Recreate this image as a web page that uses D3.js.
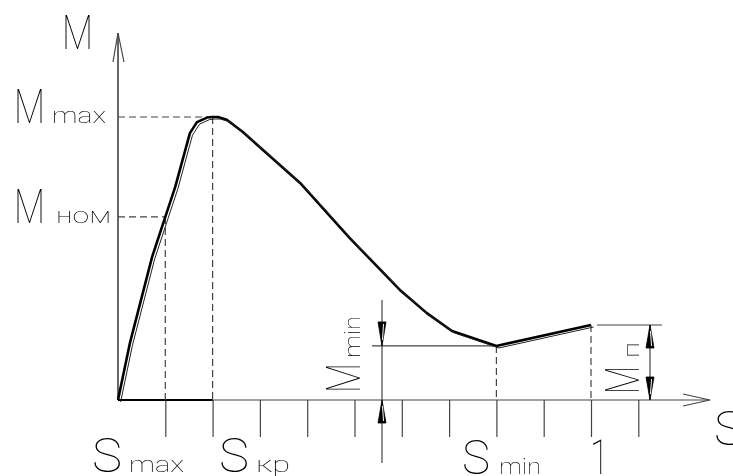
<!DOCTYPE html>
<html>
<head>
<meta charset="utf-8">
<script src="https://cdn.jsdelivr.net/npm/d3@7"></script>
<style>
  body { margin: 0; background: #fff; }
  svg { display: block; filter: grayscale(100%); }
  text { font-family: "DejaVu Sans ExtraLight", "Roboto", "Inter", sans-serif; font-weight: 100; fill: #000; }
</style>
</head>
<body>
<script>
const width = 733;
const height = 476;

// slip / torque (M in units of Mmax)
const slip   = [0, 0.025, 0.072, 0.1, 0.121, 0.152, 0.167, 0.188, 0.2, 0.211, 0.23, 0.264, 0.385, 0.49, 0.596, 0.653, 0.706, 0.8, 1.0];
const torque = [0, 0.2, 0.505, 0.647, 0.753, 0.943, 0.982, 0.998, 1.0, 1.0, 0.99, 0.947, 0.767, 0.572, 0.389, 0.307, 0.244, 0.191, 0.265];
const tickSlips = [0.1, 0.2, 0.3, 0.4, 0.5, 0.6, 0.7, 0.8, 0.9, 1.0, 1.1];

const sMax = 0.1, sKr = 0.2, sMin = 0.8, sOne = 1.0;
const mMax = 1.0, mNom = 0.647, mMin = 0.191, mStart = 0.265;

const x = d3.scaleLinear().domain([0, 1]).range([118, 591]);
const y = d3.scaleLinear().domain([0, 1]).range([400, 117]);

const svg = d3.select("body")
  .append("svg")
  .attr("width", width)
  .attr("height", height);

const thin = "#444";

// x axis with long ticks below
const xAxis = d3.axisBottom(x).tickValues(tickSlips).tickSize(37).tickFormat("");
const gx = svg.append("g")
  .attr("transform", `translate(0,${y(0)})`)
  .call(xAxis);
gx.select(".domain").remove();
gx.selectAll("line").attr("stroke", thin).attr("stroke-width", 1.2);

svg.append("line")
  .attr("x1", x(0)).attr("x2", 710)
  .attr("y1", y(0)).attr("y2", y(0))
  .attr("stroke", thin).attr("stroke-width", 1.2);
svg.append("line")
  .attr("x1", x(0)).attr("x2", x(sKr))
  .attr("y1", y(0)).attr("y2", y(0))
  .attr("stroke", "#000").attr("stroke-width", 2);
svg.append("path")
  .attr("d", `M683,394L710,400L683,406`)
  .attr("fill", "none").attr("stroke", thin).attr("stroke-width", 1.2);

// y axis
svg.append("line")
  .attr("x1", x(0)).attr("x2", x(0))
  .attr("y1", y(0)).attr("y2", 33)
  .attr("stroke", "#000").attr("stroke-width", 1.2);
svg.append("path")
  .attr("d", `M113,62L118,33L124,62`)
  .attr("fill", "none").attr("stroke", thin).attr("stroke-width", 1.2);

// dashed guides
const dash = (x1, y1, x2, y2) => svg.append("line")
  .attr("x1", x1).attr("y1", y1).attr("x2", x2).attr("y2", y2)
  .attr("stroke", thin).attr("stroke-width", 1.2)
  .attr("stroke-dasharray", "7,4");

dash(x(0), y(mMax), x(sKr), y(mMax));
dash(x(sKr), y(mMax), x(sKr), y(0));
dash(x(0), y(mNom), x(sMax), y(mNom));
dash(x(sMax), y(mNom), x(sMax), y(0));
dash(x(sMin), y(mMin), x(sMin), y(0));
dash(x(sOne), y(mStart), x(sOne), y(0));

// solid dimension lines
const solid = (x1, y1, x2, y2) => svg.append("line")
  .attr("x1", x1).attr("y1", y1).attr("x2", x2).attr("y2", y2)
  .attr("stroke", thin).attr("stroke-width", 1.2);

solid(372, y(mMin), x(sMin), y(mMin));
solid(382, 300, 382, 463);
solid(597, y(mStart), 662, y(mStart));
solid(650, y(mStart), 650, y(0));

// narrow dimension arrows: tip at (tx,ty), dir +1 points down, -1 points up
const arrow = (tx, ty, dir, len) => {
  svg.append("path")
    .attr("d", `M${tx},${ty}L${tx - 4},${ty - dir * len}L${tx + 4},${ty - dir * len}Z`)
    .attr("fill", "#000").attr("stroke", "#000").attr("stroke-width", 0.8);
  svg.append("line")
    .attr("x1", tx + 1.5).attr("y1", ty - dir * (len - 2))
    .attr("x2", tx + 0.5).attr("y2", ty - dir * 6)
    .attr("stroke", "#fff").attr("stroke-width", 1);
};
arrow(382, y(mMin), 1, 24);
arrow(382, y(0), -1, 23);
arrow(650, y(mStart), -1, 23);
arrow(650, y(0), 1, 23);

// torque curve (drawn as a double polyline like the CAD original)
const pts = slip.map((s, i) => [s, torque[i]]);
const line = d3.line().x(d => x(d[0])).y(d => y(d[1]));

svg.append("path")
  .attr("d", line(pts))
  .attr("fill", "none").attr("stroke", "#000")
  .attr("stroke-width", 2.6).attr("stroke-linejoin", "round");
svg.append("path")
  .attr("d", line(pts))
  .attr("transform", "translate(2.6,2)")
  .attr("fill", "none").attr("stroke", "#222")
  .attr("stroke-width", 1).attr("stroke-linejoin", "round");

// labels
const labels = [
  { x: 62, y: 49, big: "M", bw: 31 },
  { x: 14, y: 123, big: "M", bw: 31, sub: "max", sx: 38, sw: 54 },
  { x: 14, y: 223, big: "M", bw: 31, sub: "ном", sx: 42, sw: 55 },
  { x: 92, y: 472, big: "S", bw: 30, sub: "max", sx: 37, sw: 55 },
  { x: 219, y: 472, big: "S", bw: 30, sub: "кр", sx: 37, sw: 34 },
  { x: 462, y: 474, big: "S", bw: 28, sub: "min", sx: 37, sw: 42 },
  { x: 590, y: 474, big: "1", bw: 19 },
  { x: 714, y: 445, big: "S", bw: 30 },
  { x: 360, y: 393, rot: true, big: "M", bw: 30, sub: "min", sx: 35, sw: 42 },
  { x: 639, y: 394, rot: true, big: "M", bw: 28, sub: "п", sx: 36, sw: 16 }
];

labels.forEach(d => {
  const g = svg.append("g")
    .attr("transform", `translate(${d.x},${d.y})` + (d.rot ? " rotate(-90)" : ""));
  g.append("text")
    .attr("x", 0).attr("y", 0)
    .attr("font-size", 49)
    .attr("textLength", d.bw)
    .attr("lengthAdjust", "spacingAndGlyphs")
    .text(d.big);
  if (d.sub) {
    g.append("text")
      .attr("x", d.sx).attr("y", 0)
      .attr("font-size", 22.5)
      .attr("textLength", d.sw)
      .attr("lengthAdjust", "spacingAndGlyphs")
      .text(d.sub);
  }
});
</script>
</body>
</html>
